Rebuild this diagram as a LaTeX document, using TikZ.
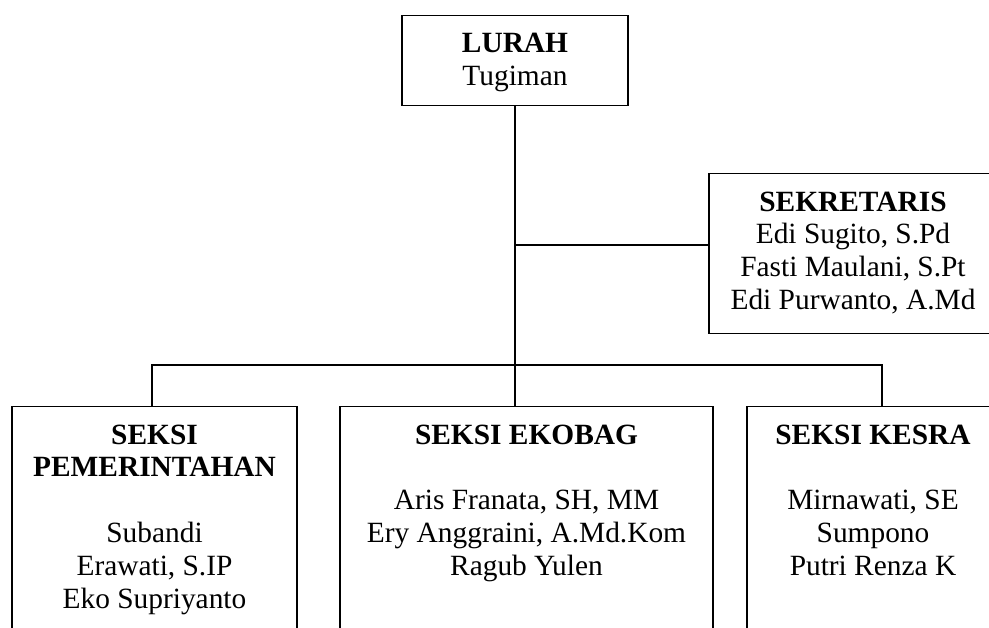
\documentclass[tikz,border=0pt]{standalone}
\usepackage{fontspec}
\setmainfont{Liberation Serif}
\begin{document}
\begin{tikzpicture}[x=0.025cm,y=-0.025cm,
        unit/.style={draw,line width=0.8pt,anchor=north,align=center,
            inner xsep=0pt,inner ysep=0.45cm,
            font=\fontsize{20.9}{23.4}\selectfont},
        link/.style={line width=0.8pt}]
        \useasboundingbox (0,0) rectangle (989,628);
        \clip (0,0) rectangle (989,628);

        \node[unit,minimum width=5.65cm,text depth=0.05cm] (lurah) at (515,15) {\textbf{LURAH}\\Tugiman}; % pimpinan
        \node[unit,minimum width=7.2cm,text depth=0.15cm] (sekretaris) at (853,173)
            {\textbf{SEKRETARIS}\\Edi Sugito, S.Pd\\Fasti Maulani, S.Pt\\Edi Purwanto, A.Md};

        \node[unit,minimum width=7.125cm,text depth=0.6cm] (pemerintahan) at (154.5,406)
            {\textbf{SEKSI}\\\textbf{PEMERINTAHAN}\\[23.4pt]Subandi\\Erawati, S.IP\\Eko Supriyanto};
        \node[unit,minimum width=9.325cm,text depth=1.425cm] (ekobag) at (526.5,406)
            {\textbf{SEKSI EKOBAG}\\[23.4pt]Aris Franata, SH, MM\\Ery Anggraini, A.Md.Kom\\Ragub Yulen};
        \node[unit,minimum width=6.3cm,text depth=1.425cm] (kesra) at (873,406)
            {\textbf{SEKSI KESRA}\\[23.4pt]Mirnawati, SE\\Sumpono\\Putri Renza K};

        \coordinate (sek) at (515,245); % cabang sekretaris
        \coordinate (barL) at (152,365);
        \coordinate (barR) at (882,365);

        \draw[link] (lurah.south) -- (lurah.south |- ekobag.north);
        \draw[link] (sek) -- (sekretaris.west |- sek);
        \draw[link] (barL |- pemerintahan.north) -- (barL) -- (barR) -- (barR |- kesra.north);
\end{tikzpicture}
\end{document}
